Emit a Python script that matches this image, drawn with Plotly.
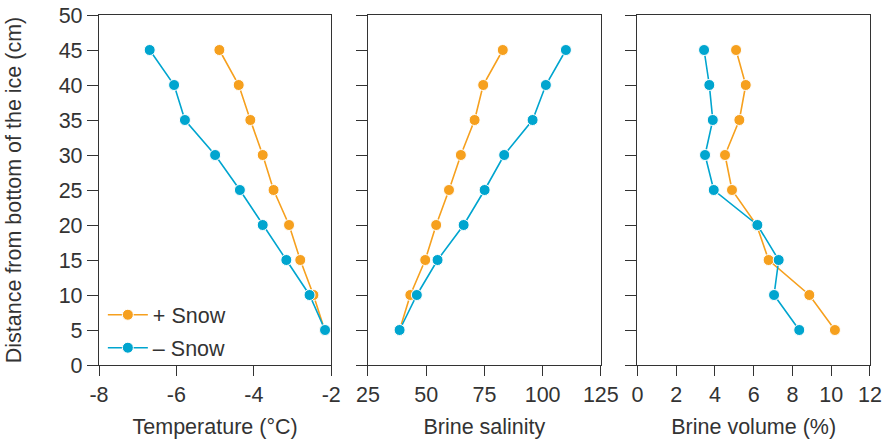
import plotly.graph_objects as go
from plotly.subplots import make_subplots

depth = [45, 40, 35, 30, 25, 20, 15, 10, 5]

temp_snow = [-4.89, -4.39, -4.09, -3.77, -3.49, -3.09, -2.80, -2.46, -2.17]
temp_nosnow = [-6.69, -6.06, -5.78, -5.00, -4.36, -3.77, -3.16, -2.56, -2.16]

sal_snow = [82.9, 74.5, 70.8, 64.9, 59.8, 54.3, 49.6, 43.2, 38.6]
sal_nosnow = [110.0, 101.4, 95.7, 83.5, 75.1, 66.1, 54.9, 46.0, 38.6]

vol_snow = [5.09, 5.59, 5.26, 4.52, 4.88, 6.15, 6.77, 8.87, 10.19]
vol_nosnow = [3.44, 3.71, 3.89, 3.49, 3.94, 6.19, 7.29, 7.05, 8.35]

series_names = ["+ Snow", "\u2013 Snow"]
x_titles = ["Temperature (\u00b0C)", "Brine salinity", "Brine volume (%)"]
y_title = "Distance from bottom of the ice (cm)"
temp_ticks = [-8, -6, -4, -2]
temp_ticktext = ["-8", "-6", "-4", "-2"]
sal_ticks = [25, 50, 75, 100, 125]
vol_ticks = [0, 2, 4, 6, 8, 10, 12]
depth_ticks = [0, 5, 10, 15, 20, 25, 30, 35, 40, 45, 50]

ORANGE = "#F6A01E"
BLUE = "#00A5CF"
AX = "#333333"
FONT = "Liberation Sans, Arial, Helvetica, sans-serif"
FS = 21.5

fig = make_subplots(rows=1, cols=3, shared_yaxes=False)

panels = [
    (temp_snow, temp_nosnow, [-8, -2], temp_ticks, temp_ticktext),
    (sal_snow, sal_nosnow, [25, 125], sal_ticks, [str(v) for v in sal_ticks]),
    (vol_snow, vol_nosnow, [0, 12], vol_ticks, [str(v) for v in vol_ticks]),
]

for i, (a, b, rng, ticks, ttext) in enumerate(panels):
    col = i + 1
    for j, (vals, color, name) in enumerate(((a, ORANGE, series_names[0]), (b, BLUE, series_names[1]))):
        fig.add_trace(
            go.Scatter(
                x=vals, y=depth, mode="lines+markers", name=name,
                line=dict(color=color, width=1.6),
                marker=dict(color=color, size=11, line=dict(color="white", width=1)),
                showlegend=(col == 1), cliponaxis=False,
                legend="legend" if j == 0 else "legend2",
            ),
            row=1, col=col,
        )

domains = [[0.0, 0.3012], [0.3488, 0.6509], [0.6983, 1.0]]
for i, (a, b, rng, ticks, ttext) in enumerate(panels):
    n = "" if i == 0 else str(i + 1)
    fig.layout["xaxis" + n].update(
        domain=domains[i], range=rng, tickvals=ticks, ticktext=ttext,
        ticks="outside", ticklen=10, tickwidth=1.3, tickcolor=AX,
        showline=True, linecolor=AX, linewidth=1.3, mirror=True,
        showgrid=False, zeroline=False, automargin=False,
        tickfont=dict(size=FS, color=AX, family=FONT),
        title=dict(text=x_titles[i], font=dict(size=FS, color=AX, family=FONT), standoff=12),
    )
    fig.layout["yaxis" + n].update(
        range=[0, 50], tickvals=depth_ticks,
        ticks="outside", ticklen=11, tickwidth=1.3, tickcolor=AX,
        showline=True, linecolor=AX, linewidth=1.3, mirror=True,
        showgrid=False, zeroline=False, showticklabels=(i == 0), automargin=False,
        tickfont=dict(size=FS, color=AX, family=FONT),
    )
fig.layout.yaxis.title = dict(text=y_title, font=dict(size=FS, color=AX, family=FONT), standoff=31)

leg_common = dict(
    xanchor="left", yanchor="top", bgcolor="rgba(0,0,0,0)",
    font=dict(size=FS, color=AX, family=FONT), itemwidth=40,
)
fig.update_layout(
    width=889, height=441,
    margin=dict(l=99, r=19, t=15, b=76),
    plot_bgcolor="white", paper_bgcolor="white",
    font=dict(family=FONT, size=FS, color=AX),
    legend=dict(x=0.005, y=0.2021, **leg_common),
    legend2=dict(x=0.005, y=0.1079, **leg_common),
)

fig.write_html("out.html")
